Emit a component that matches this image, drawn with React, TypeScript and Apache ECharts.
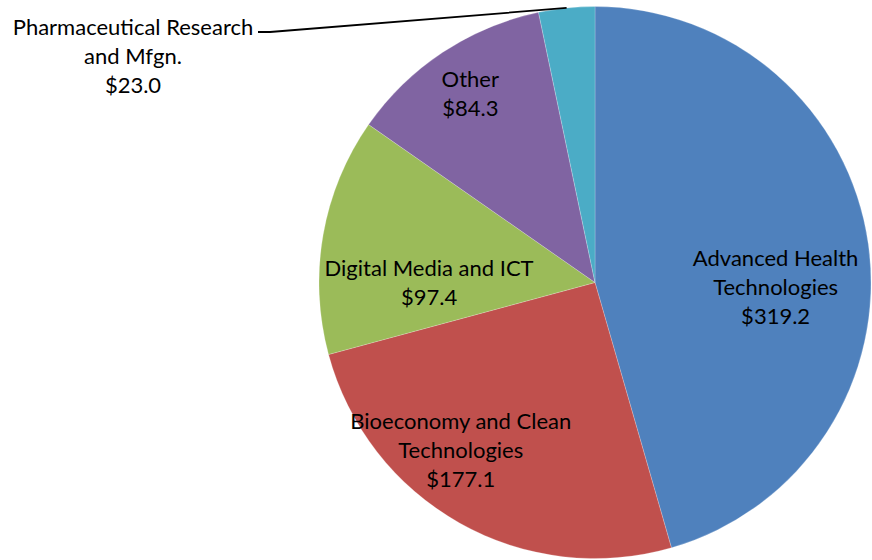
import React, { useEffect, useRef } from "react";
import * as echarts from "echarts";

const categories = [
  "Advanced Health\nTechnologies",
  "Bioeconomy and Clean\nTechnologies",
  "Digital Media and ICT",
  "Other",
  "Pharmaceutical Research\nand Mfgn.",
];
const values = [319.2, 177.1, 97.4, 84.3, 23.0];
const colors = ["#4F81BD", "#C0504D", "#9BBB59", "#8064A2", "#4BACC6"];
// label offsets relative to the default inside position
const labelOffsets: [number, number][] = [
  [41, 24],
  [-65, 44],
  [-27, 24],
  [-47, -72],
  [0, 0],
];

const CX = 595;
const CY = 282.5;
const R = 276;

export default function App() {
  const ref = useRef<HTMLDivElement>(null);
  useEffect(() => {
    document.body.style.margin = "0";
    const chart = echarts.init(ref.current!, null, { renderer: "svg" });
    const font = "Lato, 'Open Sans', sans-serif";
    const total = values.reduce((a, b) => a + b, 0);
    const before = values.slice(0, 4).reduce((a, b) => a + b, 0);
    const ang = ((before + values[4] / 2) / total) * Math.PI * 2;
    const start = [CX + R * Math.sin(ang), CY - R * Math.cos(ang)];
    chart.setOption({
      animation: false,
      backgroundColor: "#fff",
      graphic: [
        {
          type: "polyline",
          z: 100,
          shape: { points: [start, [270, 32], [258, 32]] },
          style: { stroke: "#000", lineWidth: 1.8, fill: null },
          silent: true,
        },
      ],
      series: [
        {
          type: "pie",
          center: [CX, CY],
          radius: [0, R],
          startAngle: 90,
          clockwise: true,
          avoidLabelOverlap: false,
          itemStyle: { borderColor: "rgba(255,255,255,0.35)", borderWidth: 0.6 },
          label: {
            position: "inside",
            color: "#000",
            fontFamily: font,
            fontSize: 22,
            lineHeight: 29,
            align: "center",
            formatter: (p: any) => `${p.name}\n$${p.value.toFixed(1)}`,
          },
          labelLine: { show: false },
          labelLayout: (p: any) => {
            if (p.dataIndex === 4) {
              return {
                x: 133,
                y: 55,
                align: "center",
                verticalAlign: "middle",
              };
            }
            return {};
          },
          data: values.map((v, i) => {
            const d: any = {
              name: categories[i],
              value: v,
              itemStyle: { color: colors[i] },
            };
            if (i === 4) {
              d.label = { position: "outside" };
              d.labelLine = { show: false };
            } else {
              d.label = { offset: labelOffsets[i] };
            }
            return d;
          }),
        },
      ],
    });
    return () => chart.dispose();
  }, []);
  return <div ref={ref} style={{ width: 872, height: 560 }} />;
}
